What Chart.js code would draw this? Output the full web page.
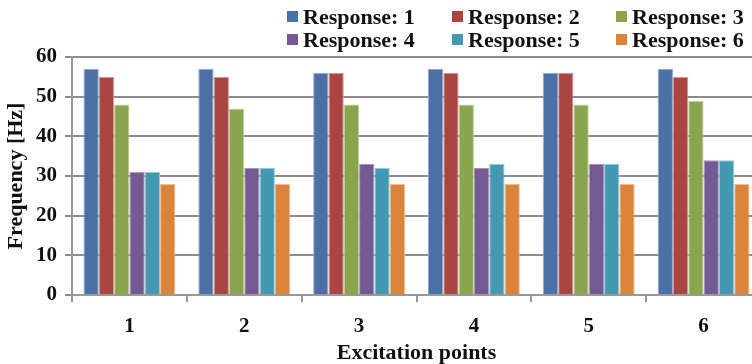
<!DOCTYPE html>
<html>
<head>
<meta charset="utf-8">
<script src="https://cdn.jsdelivr.net/npm/chart.js@4/dist/chart.umd.min.js"></script>
<style>
  html, body { margin: 0; padding: 0; background: #fff; overflow: hidden; width: 752px; height: 364px; }
  #wrap { position: relative; width: 761px; height: 364px; }
  #legend { position: absolute; left: 287px; top: 5px; display: grid; grid-template-columns: 165px 164px 140px; row-gap: 0;
            font: bold 22px "Liberation Serif", "Times New Roman", serif; color: #111; }
  #legend div { display: flex; align-items: center; white-space: nowrap; line-height: 23px; }
  #legend span { display: inline-block; width: 11px; height: 11px; margin-right: 5px; }
</style>
</head>
<body>
<div id="wrap">
  <canvas id="freqChart" width="761" height="364"></canvas>
  <div id="legend"></div>
</div>
<script>
// excitation points and measured frequencies per response
const points = ['1', '2', '3', '4', '5', '6'];
const seriesNames = ['Response: 1', 'Response: 2', 'Response: 3', 'Response: 4', 'Response: 5', 'Response: 6'];
const response1 = [57, 57, 56, 57, 56, 57];
const response2 = [55, 55, 56, 56, 56, 55];
const response3 = [48, 47, 48, 48, 48, 49];
const response4 = [31, 32, 33, 32, 33, 34];
const response5 = [31, 32, 32, 33, 33, 34];
const response6 = [28, 28, 28, 28, 28, 28];
const yTicks = [0, 10, 20, 30, 40, 50, 60];

const colors = ['#4a70a6', '#aa4542', '#89a54e', '#735a93', '#4399b0', '#db853c'];
const edges  = ['#8fa9cf', '#d49a98', '#bfd19a', '#a895bf', '#93c8d6', '#efbd93'];
const allSeries = [response1, response2, response3, response4, response5, response6];

const serif = '"Liberation Serif", "Times New Roman", serif';
const gridGray = 'rgb(140, 140, 140)';
const axisGray = '#999999';

// legend: 3 columns x 2 rows
const legend = document.getElementById('legend');
seriesNames.forEach((name, i) => {
    const item = document.createElement('div');
    item.innerHTML = `<span style="background:${colors[i]}"></span>${name}`;
    legend.appendChild(item);
});

const ctx = document.getElementById('freqChart').getContext('2d');
new Chart(ctx, {
    type: 'bar',
    data: {
        labels: points,
        datasets: allSeries.map((vals, i) => ({
            label: seriesNames[i],
            data: vals,
            backgroundColor: colors[i],
            borderColor: edges[i],
            borderWidth: 1,
            categoryPercentage: 0.8,
            barPercentage: 1.0
        }))
    },
    options: {
        responsive: false,
        animation: false,
        layout: { padding: { top: 57, right: 0, left: 0, bottom: 0 } },
        plugins: { legend: { display: false }, tooltip: { enabled: false } },
        scales: {
            y: {
                min: 0,
                max: 60,
                afterBuildTicks: axis => { axis.ticks = yTicks.map(v => ({ value: v })); },
                afterFit: scale => { scale.width = 72; },
                grid: { color: gridGray, lineWidth: 2, tickLength: 7 },
                border: { color: axisGray, width: 2 },
                ticks: { color: '#111', padding: 8, font: { family: serif, size: 21, weight: 'bold' } },
                title: {
                    display: true,
                    text: 'Frequency [Hz]',
                    color: '#111',
                    padding: { top: 3, bottom: 0 },
                    font: { family: serif, size: 22, weight: 'bold' }
                }
            },
            x: {
                afterFit: scale => { scale.height = 69; },
                grid: { drawOnChartArea: false, color: axisGray, lineWidth: 2, tickLength: 7, offset: true },
                border: { color: axisGray, width: 2 },
                ticks: { color: '#111', padding: 12, font: { family: serif, size: 21, weight: 'bold' } },
                title: {
                    display: true,
                    text: 'Excitation points',
                    color: '#111',
                    padding: { top: 0, bottom: 0 },
                    font: { family: serif, size: 22, weight: 'bold', lineHeight: 1 }
                }
            }
        }
    }
});
</script>
</body>
</html>
